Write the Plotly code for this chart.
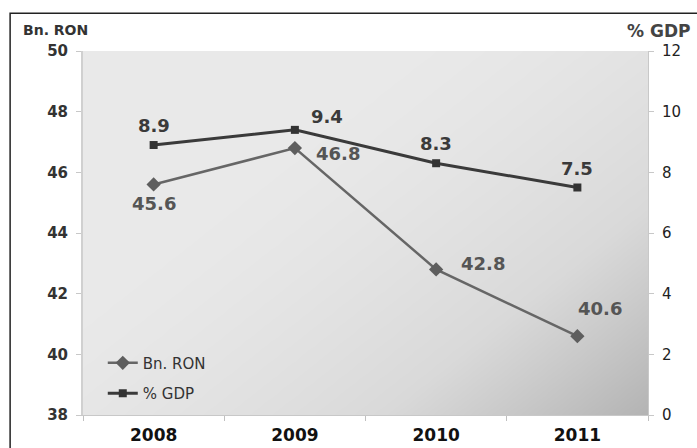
import numpy as np
import plotly.graph_objects as go

# Data
years = ["2008", "2009", "2010", "2011"]
bn_ron = [45.6, 46.8, 42.8, 40.6]
pct_gdp = [8.9, 9.4, 8.3, 7.5]

# Label offsets (pixels) for each value label
ron_label_shift = [(0, -19), (43, -5), (47, 6), (23, 28)]
gdp_label_shift = [(0, 20), (32, 13), (0, 20), (0, 19)]

xs = list(range(len(years)))

fig = go.Figure()

# Gradient backdrop of the plotting area (light top-left, darker bottom-right)
gx = np.linspace(-0.5, 3.5, 120)
gy = np.linspace(38, 50, 80)
U, V = np.meshgrid((gx + 0.5) / 4.0, (gy - 38) / 12.0)
shade = np.clip(U * 0.55 + (1 - V) * 0.45, 0, 1)
shade = np.clip((shade - 0.3) / 0.7, 0, 1) ** 1.5
fig.add_trace(go.Heatmap(
    x=gx, y=gy, z=shade, zmin=0, zmax=1, zsmooth="best",
    colorscale=[[0, "#e9e9e9"], [0.5, "#d9d9d9"], [1, "#b3b3b3"]],
    showscale=False, hoverinfo="skip", xaxis="x", yaxis="y",
))

fig.add_trace(go.Scatter(
    x=xs, y=bn_ron, name="Bn. RON", mode="lines+markers",
    line=dict(color="#666666", width=2.5),
    marker=dict(symbol="diamond", size=11, color="#5e5e5e"),
    yaxis="y", legendgroup="a",
))
fig.add_trace(go.Scatter(
    x=xs, y=pct_gdp, name="% GDP", mode="lines+markers",
    line=dict(color="#3a3a3a", width=3),
    marker=dict(symbol="square", size=8, color="#333333"),
    yaxis="y2", legendgroup="b",
))

annotations = []
for i, v in enumerate(bn_ron):
    dx, dy = ron_label_shift[i]
    annotations.append(dict(
        x=xs[i], y=v, xref="x", yref="y", text=f"{v:.1f}", showarrow=False,
        xshift=dx, yshift=dy,
        font=dict(family="DejaVu Sans", size=18, color="#555555", weight="bold"),
    ))
for i, v in enumerate(pct_gdp):
    dx, dy = gdp_label_shift[i]
    annotations.append(dict(
        x=xs[i], y=v, xref="x", yref="y2", text=f"{v:.1f}", showarrow=False,
        xshift=dx, yshift=dy,
        font=dict(family="DejaVu Sans", size=18, color="#3a3a3a", weight="bold"),
    ))

# Axis titles
annotations.append(dict(
    x=-0.11, y=1.03, xref="paper", yref="paper", text="<b>Bn. RON</b>",
    showarrow=False, xanchor="left", yanchor="bottom",
    font=dict(family="DejaVu Sans", size=14, color="#333333"),
))
annotations.append(dict(
    x=1.078, y=1.022, xref="paper", yref="paper", text="<b>% GDP</b>",
    showarrow=False, xanchor="right", yanchor="bottom",
    font=dict(family="DejaVu Sans", size=17, color="#444444"),
))

fig.update_layout(
    width=697, height=448,
    margin=dict(l=83, r=49, t=51, b=33),
    paper_bgcolor="white",
    plot_bgcolor="#e6e6e6",
    font=dict(family="DejaVu Sans", color="#222222"),
    xaxis=dict(
        range=[-0.5, 3.5], tickvals=xs, ticktext=years,
        ticks="", showgrid=False, zeroline=False,
        showline=True, linecolor="#c8c8c8", linewidth=1,
        ticklabelstandoff=5, automargin=False,
        tickfont=dict(family="DejaVu Sans", size=17, color="#111111", weight="bold"),
        minor=dict(tickvals=[-0.5, 0.5, 1.5, 2.5, 3.5], ticks="outside",
                   ticklen=5, tickcolor="#c0c0c0", showgrid=False),
        fixedrange=True,
    ),
    yaxis=dict(
        range=[38, 50], dtick=2, showgrid=False, zeroline=False,
        ticks="outside", ticklen=5, tickcolor="#c8c8c8",
        showline=True, linecolor="#d0d0d0", linewidth=2,
        ticklabelstandoff=5, automargin=False,
        tickfont=dict(family="DejaVu Sans", size=15, color="#333333", weight="bold"),
        fixedrange=True,
    ),
    yaxis2=dict(
        range=[0, 12], dtick=2, overlaying="y", side="right",
        showgrid=False, zeroline=False,
        ticks="outside", ticklen=5, tickcolor="#c8c8c8",
        showline=True, linecolor="#c8c8c8", linewidth=1,
        ticklabelstandoff=5, automargin=False,
        tickfont=dict(family="DejaVu Sans", size=15, color="#222222"),
        fixedrange=True,
    ),
    legend=dict(
        x=0.035, y=0.188, xanchor="left", yanchor="top",
        bgcolor="rgba(0,0,0,0)", tracegroupgap=8,
        font=dict(family="DejaVu Sans", size=15, color="#333333"),
        itemwidth=30,
    ),
    annotations=annotations,
    shapes=[dict(
        type="rect", xref="paper", yref="paper",
        x0=-0.129, x1=1.3, y0=-0.2, y1=1.104,
        line=dict(color="#222222", width=1.5), fillcolor="rgba(0,0,0,0)",
        layer="below",
    )],
)

fig.write_html("out.html")
